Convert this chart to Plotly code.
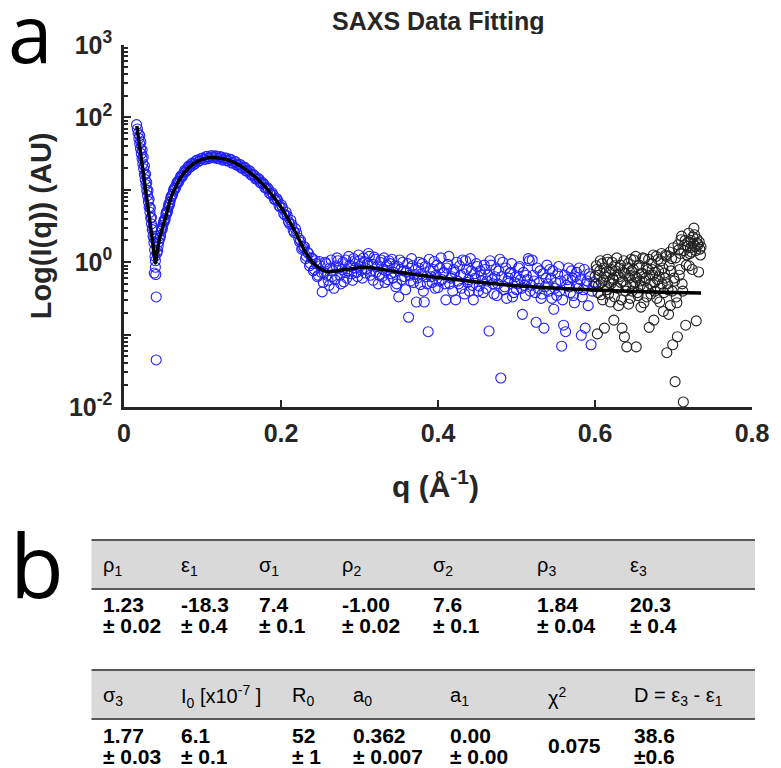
import numpy as np
import plotly.graph_objects as go

# ---------------- data ----------------
# blue measured points (fitted range): q (1/Å) and log10 of intensity
blue_q = [
    0.0160, 0.0170, 0.0180, 0.0190, 0.0200, 0.0210, 0.0220, 0.0230, 0.0240, 0.0250,
    0.0260, 0.0270, 0.0280, 0.0290, 0.0300, 0.0310, 0.0320, 0.0330, 0.0340, 0.0350,
    0.0360, 0.0370, 0.0380, 0.0390, 0.0395, 0.0400,
    0.0200, 0.0215, 0.0230, 0.0245, 0.0260, 0.0275, 0.0290, 0.0305, 0.0320, 0.0335,
    0.0350, 0.0365, 0.0380,
    0.0385, 0.0400, 0.0405, 0.0410, 0.0410,
    0.0420, 0.0435, 0.0450, 0.0465, 0.0480, 0.0495, 0.0510, 0.0525, 0.0540, 0.0555,
    0.0570, 0.0585, 0.0600, 0.0620, 0.0640, 0.0660, 0.0680, 0.0700, 0.0725, 0.0750,
    0.0775, 0.0800, 0.0825, 0.0850, 0.0875, 0.0900, 0.0930, 0.0960, 0.1000, 0.1030,
    0.1060, 0.1090, 0.1120, 0.1150, 0.1180, 0.1210, 0.1240, 0.1270, 0.1300, 0.1330,
    0.1360, 0.1390, 0.1420, 0.1450, 0.1480, 0.1510, 0.1540, 0.1570, 0.1600, 0.1630,
    0.1660, 0.1690, 0.1720, 0.1750, 0.1780, 0.1810, 0.1840, 0.1870, 0.1900, 0.1930,
    0.1960, 0.1990, 0.2020, 0.2050, 0.2080, 0.2110, 0.2140, 0.2170, 0.2200,
    0.0428, 0.0443, 0.0458, 0.0473, 0.0488, 0.0503, 0.0518, 0.0533, 0.0548, 0.0563,
    0.0578, 0.0593, 0.0610, 0.0630, 0.0650, 0.0670, 0.0690, 0.0713, 0.0738, 0.0763,
    0.0788, 0.0813, 0.0838, 0.0863, 0.0888, 0.0915, 0.0945, 0.0980, 0.1015, 0.1045,
    0.1075, 0.1105, 0.1135, 0.1165, 0.1195, 0.1225, 0.1255, 0.1285, 0.1315, 0.1345,
    0.1375, 0.1405, 0.1435, 0.1465, 0.1495, 0.1525, 0.1555, 0.1585, 0.1615, 0.1645,
    0.1675, 0.1705, 0.1735, 0.1765, 0.1795, 0.1825, 0.1855, 0.1885, 0.1915, 0.1945,
    0.1975, 0.2005, 0.2035, 0.2065, 0.2095, 0.2125, 0.2155, 0.2185,
    0.2225, 0.2250, 0.2275, 0.2300, 0.2325, 0.2350, 0.2375, 0.2400, 0.2425, 0.2450,
    0.2475, 0.2500, 0.2525, 0.2550, 0.2575, 0.2600, 0.2625, 0.2650, 0.2675, 0.2700,
    0.2725, 0.2750, 0.2775, 0.2800, 0.2825, 0.2850, 0.2875, 0.2900, 0.2925, 0.2950,
    0.2975, 0.3000, 0.3025, 0.3050, 0.3075, 0.3100, 0.3125, 0.3150, 0.3175, 0.3200,
    0.3225, 0.3250, 0.3275, 0.3300, 0.3325, 0.3350, 0.3375, 0.3400, 0.3425, 0.3450,
    0.3475, 0.3500, 0.3525, 0.3550, 0.3575, 0.3600, 0.3625, 0.3650, 0.3675, 0.3700,
    0.3725, 0.3750, 0.3775, 0.3800, 0.3825, 0.3850, 0.3875, 0.3900, 0.3925, 0.3950,
    0.3975, 0.4000, 0.4025, 0.4050, 0.4075, 0.4100, 0.4125, 0.4150, 0.4175, 0.4200,
    0.4225, 0.4250, 0.4275, 0.4300, 0.4325, 0.4350, 0.4375, 0.4400, 0.4425, 0.4450,
    0.4475, 0.4500, 0.4525, 0.4550, 0.4575, 0.4600, 0.4625, 0.4650, 0.4675, 0.4700,
    0.4725, 0.4750, 0.4775, 0.4800, 0.4825, 0.4850, 0.4875, 0.4900, 0.4925, 0.4950,
    0.4975, 0.5000, 0.5025, 0.5050, 0.5075, 0.5100, 0.5125, 0.5150, 0.5175, 0.5200,
    0.5225, 0.5250, 0.5275, 0.5300, 0.5325, 0.5350, 0.5375, 0.5400, 0.5425, 0.5450,
    0.5475, 0.5500, 0.5525, 0.5550, 0.5575, 0.5600, 0.5625, 0.5650, 0.5675, 0.5700,
    0.5725, 0.5750, 0.5775, 0.5800, 0.5825, 0.5850, 0.5875, 0.5900, 0.5925, 0.5950,
    0.5975,
    0.2238, 0.2263, 0.2288, 0.2313, 0.2338, 0.2363, 0.2388, 0.2413, 0.2438, 0.2463,
    0.2488, 0.2513, 0.2538, 0.2563, 0.2588, 0.2613, 0.2638, 0.2663, 0.2688, 0.2713,
    0.2738, 0.2763, 0.2788, 0.2813, 0.2838, 0.2863, 0.2888, 0.2913, 0.2938, 0.2963,
    0.2988, 0.3013, 0.3038, 0.3063, 0.3088, 0.3113, 0.3138, 0.3163, 0.3188, 0.3213,
    0.3238, 0.3263, 0.3288, 0.3313, 0.3338, 0.3363, 0.3388, 0.3413, 0.3438, 0.3463,
    0.3488, 0.3513, 0.3538, 0.3563, 0.3588, 0.3613, 0.3638, 0.3663, 0.3688, 0.3713,
    0.3738, 0.3763, 0.3788, 0.3813, 0.3838, 0.3863, 0.3888, 0.3913, 0.3938, 0.3963,
    0.3988, 0.4013, 0.4038, 0.4063, 0.4088, 0.4113, 0.4138, 0.4163, 0.4188, 0.4213,
    0.4238, 0.4263, 0.4288, 0.4313, 0.4338, 0.4363, 0.4388, 0.4413, 0.4438, 0.4463,
    0.4488, 0.4513, 0.4538, 0.4563, 0.4588, 0.4613, 0.4638, 0.4663, 0.4688, 0.4713,
    0.4738, 0.4763, 0.4788, 0.4813, 0.4838, 0.4863, 0.4888, 0.4913, 0.4938, 0.4963,
    0.4988, 0.5013, 0.5038, 0.5063, 0.5088, 0.5113, 0.5138, 0.5163, 0.5188, 0.5213,
    0.5238, 0.5263, 0.5288, 0.5313, 0.5338, 0.5363, 0.5388, 0.5413, 0.5438, 0.5463,
    0.5488, 0.5513, 0.5538, 0.5563, 0.5588, 0.5613, 0.5638, 0.5663, 0.5688, 0.5713,
    0.5738, 0.5763, 0.5788, 0.5813, 0.5838, 0.5863, 0.5888, 0.5913, 0.5938, 0.5963,
    0.5988,
]
blue_log_i = [
    1.90, 1.84, 1.78, 1.71, 1.64, 1.57, 1.50, 1.43, 1.36, 1.29,
    1.21, 1.14, 1.07, 0.99, 0.92, 0.84, 0.76, 0.69, 0.61, 0.53,
    0.45, 0.36, 0.27, 0.17, 0.08, 0.02,
    1.75, 1.66, 1.55, 1.45, 1.33, 1.22, 1.10, 0.99, 0.87, 0.75,
    0.62, 0.48, 0.33,
    -0.15, -0.07, -0.17, -0.48, -1.35,
    0.13, 0.22, 0.33, 0.37, 0.47, 0.51, 0.58, 0.60, 0.69, 0.71,
    0.80, 0.83, 0.91, 0.94, 1.02, 1.04, 1.11, 1.12, 1.19, 1.20,
    1.27, 1.27, 1.33, 1.32, 1.37, 1.36, 1.41, 1.40, 1.44, 1.42,
    1.46, 1.44, 1.47, 1.44, 1.46, 1.43, 1.45, 1.42, 1.44, 1.40,
    1.42, 1.37, 1.39, 1.34, 1.35, 1.30, 1.31, 1.26, 1.26, 1.20,
    1.20, 1.15, 1.15, 1.09, 1.08, 1.02, 1.01, 0.94, 0.93, 0.86,
    0.85, 0.76, 0.75, 0.65, 0.64, 0.53, 0.52, 0.41, 0.40,
    0.16, 0.28, 0.33, 0.43, 0.46, 0.55, 0.57, 0.66, 0.68, 0.76,
    0.79, 0.87, 0.91, 0.99, 1.01, 1.08, 1.10, 1.16, 1.18, 1.24,
    1.25, 1.31, 1.31, 1.36, 1.35, 1.40, 1.39, 1.43, 1.42, 1.46,
    1.43, 1.47, 1.45, 1.47, 1.43, 1.46, 1.41, 1.44, 1.40, 1.42,
    1.37, 1.39, 1.34, 1.35, 1.30, 1.31, 1.26, 1.27, 1.21, 1.21,
    1.15, 1.16, 1.10, 1.10, 1.03, 1.03, 0.95, 0.96, 0.87, 0.88,
    0.78, 0.79, 0.67, 0.69, 0.56, 0.58, 0.44, 0.46,
    0.33, 0.30, 0.20, 0.21, 0.08, 0.12, -0.02, 0.05, -0.10, -0.02,
    -0.18, -0.05, -0.41, -0.15, -0.02, -0.25, -0.08, -0.20, -0.36, -0.05,
    0.02, -0.18, -0.10, -0.27, 0.03, -0.12, -0.04, -0.16, 0.05, -0.08,
    -0.20, 0.02, -0.11, 0.06, -0.15, -0.02, 0.08, -0.12, -0.25, 0.04,
    -0.06, -0.18, 0.03, -0.10, -0.28, -0.04, 0.02, -0.16, -0.22, -0.05,
    -0.30, -0.48, -0.10, 0.00, -0.20, -0.13, -0.76, -0.26, -0.05, -0.17,
    -0.55, -0.08, -0.31, -0.02, -0.55, -0.20, -0.96, -0.12, -0.28, 0.01,
    -0.18, -0.35, -0.08, -0.24, -0.14, -0.52, -0.03, -0.30, -0.20, -0.10,
    -0.52, -0.26, -0.05, -0.36, -0.16, 0.02, -0.28, -0.40, -0.12, -0.52,
    -0.22, -0.06, -0.33, -0.18, -0.42, -0.10, -0.26, -0.95, -0.04, -0.30,
    -0.20, -0.46, -0.12, -1.60, 0.00, -0.34, -0.50, -0.22, -0.14, -0.48,
    -0.28, -0.38, -0.08, -0.24, -0.72, -0.32, -0.18, 0.05, -0.40, 0.03,
    -0.26, -0.83, -0.36, -0.12, -0.44, -0.91, -0.22, -0.30, -0.10, -0.50,
    -0.65, -0.28, -0.16, -0.40, -1.16, -0.87, -0.96, -0.24, -0.34, -0.12,
    -0.46, -0.20, -0.30, -0.08, -1.01, -0.38, -0.91, -0.26, -0.16, -1.14,
    -0.34,
    0.28, 0.18, 0.22, 0.05, 0.14, -0.05, 0.06, -0.12, 0.02, -0.20,
    0.01, -0.14, -0.28, 0.00, -0.18, -0.32, 0.03, -0.12, -0.24, 0.06,
    -0.08, -0.30, 0.00, -0.14, -0.22, 0.08, -0.06, -0.25, 0.02, -0.14,
    0.10, -0.05, -0.22, 0.01, -0.09, 0.12, -0.18, -0.03, 0.07, -0.14,
    -0.30, 0.00, -0.20, 0.06, -0.12, -0.24, -0.02, 0.04, -0.14, -0.34,
    -0.06, 0.03, -0.24, -0.12, -0.38, -0.02, -0.18, 0.05, -0.28, -0.10,
    -0.22, 0.00, -0.16, -0.40, -0.06, -0.30, 0.04, -0.20, -0.10, -0.36,
    -0.04, -0.26, 0.06, -0.16, -0.30, -0.08, 0.08, -0.22, -0.40, -0.14,
    0.00, -0.30, -0.18, 0.03, -0.44, -0.10, -0.24, 0.05, -0.32, -0.16,
    -0.02, -0.40, -0.12, -0.26, -0.04, -0.36, -0.18, 0.02, -0.24, -0.44,
    -0.10, -0.30, 0.04, -0.20, -0.38, -0.08, -0.26, -0.16, -0.02, -0.42,
    -0.20, -0.30, -0.06, -0.36, -0.14, -0.46, -0.24, 0.02, -0.32, -0.18,
    -0.42, -0.08, -0.28, -0.50, -0.16, -0.34, -0.04, -0.40, -0.22, -0.12,
    -0.36, -0.46, -0.06, -0.26, -0.52, -0.18, -0.32, -0.08, -0.42, -0.22,
    -0.56, -0.14, -0.36, -0.24, -0.48, -0.10, -0.30, -0.60, -0.20, -0.40,
    -0.28,
]

# black points (high-q part, excluded from fit)
black_q = [
    0.6000, 0.6015, 0.6030, 0.6045, 0.6060, 0.6075, 0.6090, 0.6105, 0.6120, 0.6135,
    0.6150, 0.6165, 0.6180, 0.6195, 0.6210, 0.6225, 0.6240, 0.6255, 0.6270, 0.6285,
    0.6300, 0.6315, 0.6330, 0.6345, 0.6360, 0.6375, 0.6390, 0.6405, 0.6420, 0.6435,
    0.6450, 0.6465, 0.6480, 0.6495, 0.6510, 0.6525, 0.6540, 0.6555, 0.6570, 0.6585,
    0.6600, 0.6615, 0.6630, 0.6645, 0.6660, 0.6675, 0.6690, 0.6705, 0.6720, 0.6735,
    0.6750, 0.6765, 0.6780, 0.6795, 0.6810, 0.6825, 0.6840, 0.6855, 0.6870, 0.6885,
    0.6900, 0.6915, 0.6930, 0.6945, 0.6960, 0.6975, 0.6990, 0.7005, 0.7020, 0.7035,
    0.7050, 0.7065, 0.7080, 0.7095, 0.7110, 0.7125, 0.7140, 0.7155, 0.7170, 0.7185,
    0.7200, 0.7215, 0.7230, 0.7245, 0.7260, 0.7275, 0.7290, 0.7305, 0.7320, 0.7335,
    0.7350,
    0.6008, 0.6023, 0.6038, 0.6053, 0.6068, 0.6083, 0.6098, 0.6113, 0.6128, 0.6143,
    0.6158, 0.6173, 0.6188, 0.6203, 0.6218, 0.6233, 0.6248, 0.6263, 0.6278, 0.6293,
    0.6308, 0.6323, 0.6338, 0.6353, 0.6368, 0.6383, 0.6398, 0.6413, 0.6428, 0.6443,
    0.6458, 0.6473, 0.6488, 0.6503, 0.6518, 0.6533, 0.6548, 0.6563, 0.6578, 0.6593,
    0.6608, 0.6623, 0.6638, 0.6653, 0.6668, 0.6683, 0.6698, 0.6713, 0.6728, 0.6743,
    0.6758, 0.6773, 0.6788, 0.6803, 0.6818, 0.6833, 0.6848, 0.6863, 0.6878, 0.6893,
    0.6908, 0.6923, 0.6938, 0.6953, 0.6968, 0.6983, 0.6998, 0.7013, 0.7028, 0.7043,
    0.7058, 0.7073, 0.7088, 0.7103, 0.7118, 0.7133, 0.7148, 0.7163, 0.7178, 0.7193,
    0.7208, 0.7223, 0.7238, 0.7253, 0.7268, 0.7283, 0.7298, 0.7313, 0.7328, 0.7343,
]
black_log_i = [
    -0.20, -0.05, -0.99, -0.32, -0.12, -0.45, -0.02, -0.25, -0.91, -0.15,
    -0.38, 0.00, -0.28, -0.55, -0.10, -0.22, -0.80, -0.05, -0.35, -0.18,
    -0.60, -0.08, -0.28, -0.91, -0.14, -1.03, -0.40, -1.17, -0.02, -0.22,
    -0.50, -0.12, -0.30, 0.03, -0.20, -1.17, -0.42, -0.08, -0.26, -0.62,
    -0.15, -0.35, 0.05, -0.22, -0.48, -0.10, -0.90, -0.30, -0.02, -0.18,
    -0.80, -0.40, 0.08, -0.24, -0.12, -0.55, 0.02, -0.30, -0.68, -0.15,
    0.10, -1.25, -0.38, -0.05, -0.60, 0.05, -1.14, -0.22, -1.65, -0.48,
    -1.03, 0.17, -0.10, 0.31, -0.30, -1.93, 0.24, -0.87, 0.10, 0.28,
    -0.05, 0.20, 0.14, 0.35, 0.47, 0.22, -0.81, 0.26, -0.135, 0.18,
    0.21,
    -0.30, -0.10, -0.42, -0.18, 0.02, -0.28, -0.52, -0.08, -0.34, -0.20,
    0.04, -0.44, -0.14, -0.30, 0.00, -0.24, -0.48, -0.12, 0.06, -0.36,
    -0.20, -0.04, -0.52, -0.26, 0.02, -0.16, -0.32, -0.08, -0.58, -0.18,
    0.04, -0.40, -0.10, -0.28, 0.08, -0.22, -0.46, -0.04, -0.32, -0.16,
    0.06, -0.56, -0.26, -0.08, -0.36, 0.04, -0.18, -0.44, -0.10, 0.10,
    -0.28, -0.14, -0.50, 0.04, -0.20, -0.36, 0.12, -0.08, -0.42, -0.22,
    0.08, -0.30, -0.72, 0.14, -0.12, -0.40, 0.20, -0.26, 0.06, -0.56,
    0.24, -0.18, 0.12, 0.36, -0.40, 0.16, 0.30, -0.04, 0.22, 0.40,
    0.12, 0.30, -0.10, 0.26, 0.38, 0.16, 0.32, 0.24, 0.28, 0.10,
]

# fitted model curve
fit_q = [0.0163, 0.020, 0.025, 0.030, 0.035, 0.0401, 0.043, 0.047, 0.053, 0.060,
         0.070, 0.080, 0.090, 0.100, 0.110, 0.120, 0.130, 0.140, 0.150, 0.160,
         0.170, 0.180, 0.190, 0.200, 0.210, 0.220, 0.230, 0.240, 0.250, 0.258,
         0.270, 0.290, 0.305, 0.330, 0.350, 0.400, 0.450, 0.500, 0.550, 0.600,
         0.650, 0.700, 0.735]
fit_log_i = [1.88, 1.59, 1.20, 0.80, 0.40, -0.01, 0.20, 0.40, 0.62, 0.90,
             1.13, 1.28, 1.37, 1.42, 1.445, 1.44, 1.42, 1.38, 1.32, 1.24,
             1.15, 1.04, 0.91, 0.76, 0.58, 0.38, 0.16, 0.00, -0.09, -0.13,
             -0.12, -0.09, -0.07, -0.10, -0.14, -0.21, -0.275, -0.325, -0.36, -0.385,
             -0.405, -0.42, -0.425]

# axis ticks
x_tick_vals = [0, 0.2, 0.4, 0.6, 0.8]
x_tick_text = ["0", "0.2", "0.4", "0.6", "0.8"]
y_tick_vals = [1e-2, 1e-1, 1e0, 1e1, 1e2, 1e3]
y_tick_text = ["10<sup>-2</sup>", "", "10<sup>0</sup>", "", "10<sup>2</sup>", "10<sup>3</sup>"]

# fit-parameter tables
table1_headers = ["ρ<sub>1</sub>", "ε<sub>1</sub>", "σ<sub>1</sub>", "ρ<sub>2</sub>",
                  "σ<sub>2</sub>", "ρ<sub>3</sub>", "ε<sub>3</sub>"]
table1_values = ["1.23", "-18.3", "7.4", "-1.00", "7.6", "1.84", "20.3"]
table1_errors = ["± 0.02", "± 0.4", "± 0.1", "± 0.02", "± 0.1", "± 0.04", "± 0.4"]
table2_headers = ["σ<sub>3</sub>", "I<sub>0</sub> [x10<sup>-7</sup> ]", "R<sub>0</sub>",
                  "a<sub>0</sub>", "a<sub>1</sub>", "χ<sup>2</sup>",
                  "D = ε<sub>3</sub> - ε<sub>1</sub>"]
table2_values = ["1.77", "6.1", "52", "0.362", "0.00", "0.075", "38.6"]
table2_errors = ["± 0.03", "± 0.1", "± 1", "± 0.007", "± 0.00", "", "±0.6"]

# ---------------- layout geometry (pixels of the 781x768 page) ----------------
OFF = 8                      # page body margin
W, H = 781 - OFF, 768 - OFF
X0, X1, Y0, Y1 = 124, 762, 45, 407   # plot area in page pixels
L, T = X0 - OFF, Y0 - OFF
R = W - (X1 - OFF)
B = H - (Y1 - OFF)
PW, PH = X1 - X0, Y1 - Y0


def px(x):
    return (x - X0) / PW


def py(y):
    return 1 - (y - Y0) / PH


AXC = "#262626"
FONT = "Liberation Sans, Arial, sans-serif"

fig = go.Figure()
fig.add_trace(go.Scatter(
    x=blue_q, y=10 ** np.array(blue_log_i), mode="markers",
    marker=dict(symbol="circle-open", size=10, color="#1f1fff", line=dict(width=1.1)),
    hoverinfo="skip"))
fig.add_trace(go.Scatter(
    x=black_q, y=10 ** np.array(black_log_i), mode="markers",
    marker=dict(symbol="circle-open", size=10, color="#222222", line=dict(width=1.1)),
    hoverinfo="skip"))
fig.add_trace(go.Scatter(
    x=fit_q, y=10 ** np.array(fit_log_i), mode="lines",
    line=dict(color="black", width=3.5, shape="spline", smoothing=0.4),
    hoverinfo="skip"))

minor_vals = [m * 10.0 ** e for e in range(-2, 3) for m in range(2, 10)]

fig.update_layout(
    width=W, height=H, autosize=False,
    margin=dict(l=L, r=R, t=T, b=B, pad=0),
    paper_bgcolor="white", plot_bgcolor="white",
    showlegend=False,
    font=dict(family=FONT, color=AXC),
    xaxis=dict(
        range=[0, 0.8], tickmode="array", tickvals=x_tick_vals, ticktext=x_tick_text,
        showgrid=False, zeroline=False, showline=True, linecolor=AXC, linewidth=2.5,
        ticks="inside", ticklen=7, tickwidth=2, tickcolor=AXC,
        tickfont=dict(family=FONT, size=25, color=AXC, weight="bold"),
        ticklabelstandoff=2,
    ),
    yaxis=dict(
        type="log", range=[-2, 3], tickmode="array", tickvals=y_tick_vals,
        ticktext=y_tick_text,
        showgrid=False, zeroline=False, showline=True, linecolor=AXC, linewidth=2.5,
        ticks="inside", ticklen=7, tickwidth=2, tickcolor=AXC,
        tickfont=dict(family=FONT, size=25, color=AXC, weight="bold"),
        minor=dict(tickmode="array", tickvals=minor_vals, ticks="inside", ticklen=4,
                   tickwidth=1.5, tickcolor=AXC, showgrid=False),
        ticklabelstandoff=4,
    ),
)

ann = []
# title and axis titles
ann.append(dict(x=px(443), y=py(21), text="<b>SAXS Data Fitting</b>", height=26,
                font=dict(size=25, family=FONT, color=AXC)))
ann.append(dict(x=px(40), y=py(226), text="<b>Log(I(q)) (AU)</b>", textangle=-90,
                font=dict(size=29, family=FONT, color=AXC)))
ann.append(dict(x=px(440), y=py(484), text="<b>q (Å<sup>-1</sup>)</b>",
                font=dict(size=30, family=FONT, color=AXC)))
# panel letters (box trimmed to the glyph so it stays on the page)
ann.append(dict(x=px(29), y=py(51), text="a", height=70, valign="bottom",
                font=dict(size=80, family="Open Sans, sans-serif", color="black")))
ann.append(dict(x=px(36), y=py(564), text="b",
                font=dict(size=88, family="Open Sans, sans-serif", color="black")))

shapes = []
band_x0, band_x1 = 91, 765
tables = [
    (540, 589, 566, 604, 625, [101, 180, 259, 343, 436, 542, 636],
     table1_headers, table1_values, table1_errors),
    (670, 719, 696, 735, 756, [101, 180, 293, 355, 453, 553, 640],
     table2_headers, table2_values, table2_errors),
]
for (top, bot, hy, v1, v2, cols, heads, vals, errs) in tables:
    shapes.append(dict(type="rect", xref="paper", yref="paper",
                       x0=px(band_x0), x1=px(band_x1), y0=py(bot), y1=py(top),
                       fillcolor="#d9d9d9", line=dict(width=0), layer="below"))
    for yy in (top, bot):
        shapes.append(dict(type="line", xref="paper", yref="paper",
                           x0=px(band_x0), x1=px(band_x1), y0=py(yy), y1=py(yy),
                           line=dict(color="#595959", width=2)))
    for cx, h, v, e in zip(cols, heads, vals, errs):
        ann.append(dict(x=px(cx), y=py(hy), text=h, xanchor="left",
                        font=dict(size=20, family=FONT, color="black")))
        if e:
            ann.append(dict(x=px(cx), y=py(v1), text="<b>" + v + "</b>", xanchor="left",
                            font=dict(size=21, family=FONT, color="black")))
            ann.append(dict(x=px(cx), y=py(v2), text="<b>" + e + "</b>", xanchor="left",
                            font=dict(size=21, family=FONT, color="black")))
        else:
            ann.append(dict(x=px(cx), y=py((v1 + v2) / 2), text="<b>" + v + "</b>",
                            xanchor="left",
                            font=dict(size=21, family=FONT, color="black")))

for a in ann:
    a.setdefault("xref", "paper")
    a.setdefault("yref", "paper")
    a.setdefault("showarrow", False)
    a.setdefault("yanchor", "middle")
    a.setdefault("xanchor", "center")

fig.update_layout(annotations=ann, shapes=shapes)
fig.write_html("out.html")
